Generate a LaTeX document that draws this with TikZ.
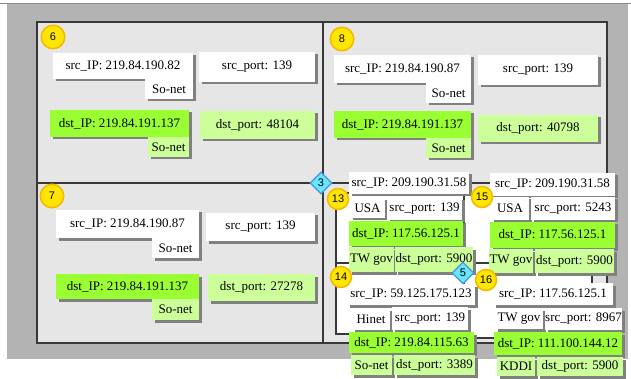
\documentclass[tikz,border=0pt]{standalone}
\usepackage{fontspec}
\setmainfont{Liberation Serif}
\newfontfamily\numfont{Liberation Sans}
\usetikzlibrary{shapes.geometric,shadows}
\definecolor{outergray}{HTML}{B3B3B3}
\definecolor{innergray}{HTML}{E6E6E6}
\definecolor{framec}{HTML}{383838}
\definecolor{bgreen}{HTML}{99FF33}
\definecolor{lgreen}{HTML}{CCFF99}
\definecolor{shadowc}{HTML}{808080}
\definecolor{circfill}{HTML}{FFE600}
\definecolor{circline}{HTML}{F5B800}
\definecolor{diafill}{HTML}{66E6FF}
\definecolor{dialine}{HTML}{4D94DB}
\tikzset{
 cell/.style={rectangle, inner sep=0pt, font=\fontsize{13}{15}\selectfont,
   drop shadow={shadow xshift=2.5pt, shadow yshift=-2.5pt, fill=shadowc, opacity=1}},
 wcell/.style={cell, fill=white},
 gcell/.style={cell, fill=bgreen},
 lcell/.style={cell, fill=lgreen},
 badge/.style={circle, fill=circfill, draw=circline, line width=1.5pt, minimum size=21pt, inner sep=0pt, font=\numfont\fontsize{11}{12}\selectfont},
 bigbadge/.style={badge, minimum size=23.5pt},
 junction/.style={diamond, fill=diafill, draw=dialine, line width=1.2pt, minimum size=22pt, inner sep=0pt, font=\numfont\fontsize{11}{12}\selectfont},
 frame/.style={draw=framec, line width=1.2pt},
}
\newcommand\bx[7]{%
 \pgfmathsetmacro\bxw{#4-#2}\pgfmathsetmacro\bxh{#5-#3}%
 \node[#6, minimum width=\bxw pt, minimum height=\bxh pt] (#1) at ({(#2+#4)/2},{(#3+#5)/2}) {#7};}
\begin{document}
\begin{tikzpicture}[x=1pt,y=-1pt]
\useasboundingbox (0,0) rectangle (631,379);
% backgrounds
\fill[outergray] (7,3) rectangle (628,359);
\draw[framec!60, line width=0.8pt] (0,3) -- (631,3);
\draw[frame, fill=innergray] (37,22) rectangle (607,343);
\draw[frame] (323,22) -- (323,343);
\draw[frame] (37,183) -- (607,183);
\draw[frame, fill=white] (336,193) rectangle (464,263);
\draw[frame, fill=white] (336,263) rectangle (464,334);
\draw[frame, fill=white] (464,193) rectangle (607,263);
\draw[frame, fill=white] (464,263) rectangle (592,338);
% quadrant 6
\bx{asip}{53}{53}{193}{79}{wcell}{src\_IP: 219.84.190.82}
\bx{asisp}{145}{79}{193}{99}{wcell}{So-net}
\bx{asp}{199}{52}{315}{82}{wcell}{src\_port: 139}
\bx{adip}{50}{110}{189}{137}{gcell}{dst\_IP: 219.84.191.137}
\bx{adisp}{148}{137}{189}{157}{lcell}{So-net}
\bx{adp}{200}{111}{315}{139}{lcell}{dst\_port: 48104}
% quadrant 8
\bx{bsip}{334}{55}{471}{83}{wcell}{src\_IP: 219.84.190.87}
\bx{bsisp}{426}{83}{471}{103}{wcell}{So-net}
\bx{bsp}{478}{55}{598}{85}{wcell}{src\_port: 139}
\bx{bdip}{334}{111}{471}{138}{gcell}{dst\_IP: 219.84.191.137}
\bx{bdisp}{426}{138}{471}{158}{lcell}{So-net}
\bx{bdp}{478}{115}{598}{142}{lcell}{dst\_port: 40798}
% quadrant 7
\bx{csip}{56}{210}{199}{238}{wcell}{src\_IP: 219.84.190.87}
\bx{csisp}{152}{238}{199}{258}{wcell}{So-net}
\bx{csp}{206}{213}{315}{241}{wcell}{src\_port: 139}
\bx{cdip}{56}{274}{199}{299}{gcell}{dst\_IP: 219.84.191.137}
\bx{cdisp}{152}{299}{199}{320}{lcell}{So-net}
\bx{cdp}{208}{274}{315}{301}{lcell}{dst\_port: 27278}
% panel 13
\bx{dsip}{349}{172}{469}{194}{wcell}{src\_IP: 209.190.31.58}
\bx{dsisp}{350}{198}{385}{218}{wcell}{USA}
\bx{dsp}{387}{198}{462}{220}{wcell}{src\_port: 139}
\bx{ddip}{349}{221}{463}{246}{gcell}{dst\_IP: 117.56.125.1}
\bx{ddisp}{349}{247}{394}{272}{lcell}{TW gov}
\bx{ddp}{395}{247}{473}{272}{lcell}{dst\_port: 5900}
% panel 15
\bx{esip}{490}{173}{615}{196}{wcell}{src\_IP: 209.190.31.58}
\bx{esisp}{491}{197}{529}{220}{wcell}{USA}
\bx{esp}{531}{197}{615}{220}{wcell}{src\_port: 5243}
\bx{edip}{490}{222}{615}{248}{gcell}{dst\_IP: 117.56.125.1}
\bx{edisp}{489}{249}{533}{273}{lcell}{TW gov}
\bx{edp}{535}{249}{614}{273}{lcell}{dst\_port: 5900}
% panel 14
\bx{fsip}{347}{284}{475}{305}{wcell}{src\_IP: 59.125.175.123}
\bx{fsisp}{352}{308}{390}{330}{wcell}{Hinet}
\bx{fsp}{392}{307}{468}{330}{wcell}{src\_port: 139}
\bx{fdip}{349}{332}{474}{353}{gcell}{dst\_IP: 219.84.115.63}
\bx{fdisp}{351}{355}{392}{375}{lcell}{So-net}
\bx{fdp}{394}{355}{475}{375}{lcell}{dst\_port: 3389}
% panel 16
\bx{gsip}{493}{283}{613}{305}{wcell}{src\_IP: 117.56.125.1}
\bx{gsisp}{495}{308}{543}{329}{wcell}{TW gov}
\bx{gsp}{545}{308}{622}{330}{wcell}{src\_port: 8967}
\bx{gdip}{494}{332}{622}{355}{gcell}{dst\_IP: 111.100.144.12}
\bx{gdisp}{497}{357}{535}{376}{lcell}{KDDI}
\bx{gdp}{537}{357}{623}{376}{lcell}{dst\_port: 5900}
% badges
\node[bigbadge] (n6) at (53,37) {6};
\node[bigbadge] (n8) at (342,39) {8};
\node[bigbadge] (n7) at (52,196) {7};
\node[badge] (n13) at (338,199) {13};
\node[badge] (n15) at (482,197) {15};
\node[badge] (n14) at (341,277) {14};
\node[badge] (n16) at (486,280) {16};
\node[junction] (j3) at (321,183) {3};
\node[junction] (j5) at (463,273) {5};
\end{tikzpicture}
\end{document}
